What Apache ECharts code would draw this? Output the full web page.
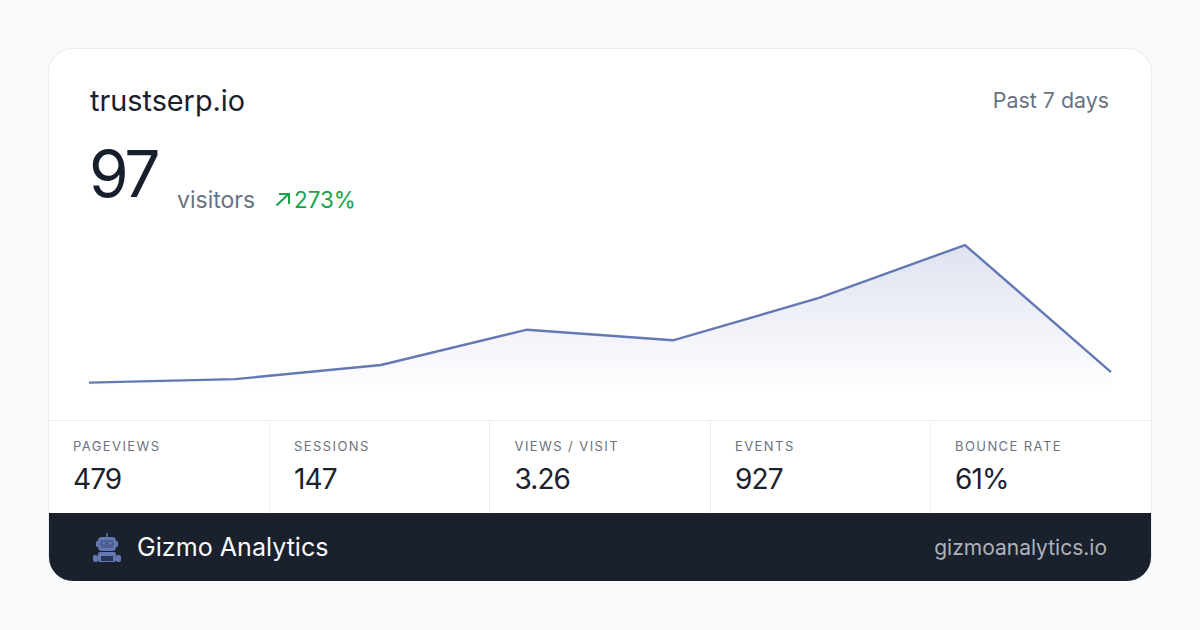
<!DOCTYPE html>
<html><head><meta charset="utf-8">
<style>
html,body{margin:0;padding:0;background:#f8f9fb}
#c{width:1200px;height:630px}
svg text[fill="#6c727d"]{letter-spacing:1.42px}
svg text[fill="#181f2c"]{letter-spacing:-3.2px}
svg text[fill="#1b212d"]{letter-spacing:-0.9px}
</style>
<script src="https://cdn.jsdelivr.net/npm/echarts@6/dist/echarts.min.js"></script>
</head><body><div id="c"></div>
<script>
const days = ['1','2','3','4','5','6','7','8'];
const visitors = [0, 1, 5, 15, 12, 24, 39, 3];
const statLabels = ['PAGEVIEWS','SESSIONS','VIEWS / VISIT','EVENTS','BOUNCE RATE'];
const statValues = ['479','147','3.26','927','61%'];
const statX = [73, 294, 514.5, 735, 955];
const dividers = [269.5, 489.5, 710.5, 930.5];

const FF = 'Inter, "Noto Sans", sans-serif';
const txt = (x,base,text,size,fill,align,weight) => ({type:'text',x,y:base-0.364*size,silent:true,z:10,
  style:{text,fontSize:size,fontFamily:FF,fontWeight:weight||400,fill,align:align||'left',verticalAlign:'middle'}});
const rr = (x,y,w,h,r,fill) => ({type:'rect',silent:true,z:11,shape:{x,y,width:w,height:h,r},style:{fill}});
const ln = (x1,y1,x2,y2,stroke,w,z) => ({type:'line',silent:true,z:z||2,shape:{x1,y1,x2,y2},style:{stroke,lineWidth:w}});

const ROBOT = '#6479b3';
const FACE = '#4d5f90';
const elements = [
  {type:'rect',silent:true,z:-10,shape:{x:48.5,y:48.5,width:1103,height:532,r:24},style:{fill:'#fff',stroke:'#eaecef',lineWidth:1}},
  ln(49,420.5,1151,420.5,'#eceef0',1),
  ...dividers.map(x=>ln(x,421,x,513,'#eceef0',1)),
  {type:'rect',silent:true,z:5,shape:{x:49,y:513,width:1102,height:68,r:[0,0,24,24]},style:{fill:'#1a202c'}},
  txt(90,111,'trustserp.io',28.8,'#1a202c'),
  txt(1109,108,'Past 7 days',21.4,'#6b7280','right'),
  txt(89,197,'97',64,'#181f2c'),
  txt(177,208,'visitors',23,'#6b7280'),
  txt(294,208,'273%',22.4,'#16a34a'),
  {type:'polyline',silent:true,z:10,shape:{points:[[276.5,205.5],[288.5,194]]},style:{stroke:'#16a34a',lineWidth:2,fill:null}},
  {type:'polyline',silent:true,z:10,shape:{points:[[279,194],[289,194],[289,204]]},style:{stroke:'#16a34a',lineWidth:2,fill:null}},
  ...statLabels.map((s,i)=>txt(statX[i],451,s,13,'#6c727d')),
  ...statValues.map((s,i)=>txt(statX[i],489,s,28,'#1b212d')),
  txt(137,556,'Gizmo Analytics',25.1,'#f8fafc'),
  txt(1107,555,'gizmoanalytics.io',21,'#adb2ba','right'),
  // robot icon
  rr(106.3,533,1.4,4,0,ROBOT),
  rr(98,537,18,14,4,ROBOT),
  rr(96,541,2,6,1,ROBOT),
  rr(116,541,2,6,1,ROBOT),
  rr(100,540,14,8,3,FACE),
  rr(102.5,542,2.5,2.5,1,ROBOT),
  rr(109,542,2.5,2.5,1,ROBOT),
  rr(98,552,18,10,2,ROBOT),
  rr(93,555,5,7,2,ROBOT),
  rr(116,555,5,7,2,ROBOT),
  rr(101,556,12,5,0,'#2c3654'),
];

const chart = echarts.init(document.getElementById('c'),null,{renderer:'svg',width:1200,height:630});
chart.setOption({
  animation:false,
  backgroundColor:'#f8f9fb',
  grid:{left:89,right:89,top:245,bottom:235},
  xAxis:{type:'category',data:days,boundaryGap:false,show:false},
  yAxis:{type:'value',min:-3.5,max:39,show:false},
  graphic:{elements},
  series:[{type:'line',data:visitors,symbol:'none',smooth:false,z:3,
    lineStyle:{color:'#6479b3',width:2.4,join:'miter',cap:'butt'},
    areaStyle:{origin:'start',color:new echarts.graphic.LinearGradient(0,0,0,1,[
      {offset:0,color:'rgba(100,121,179,0.3)'},{offset:1,color:'rgba(100,121,179,0)'}])}
  }]
});
</script></body></html>
